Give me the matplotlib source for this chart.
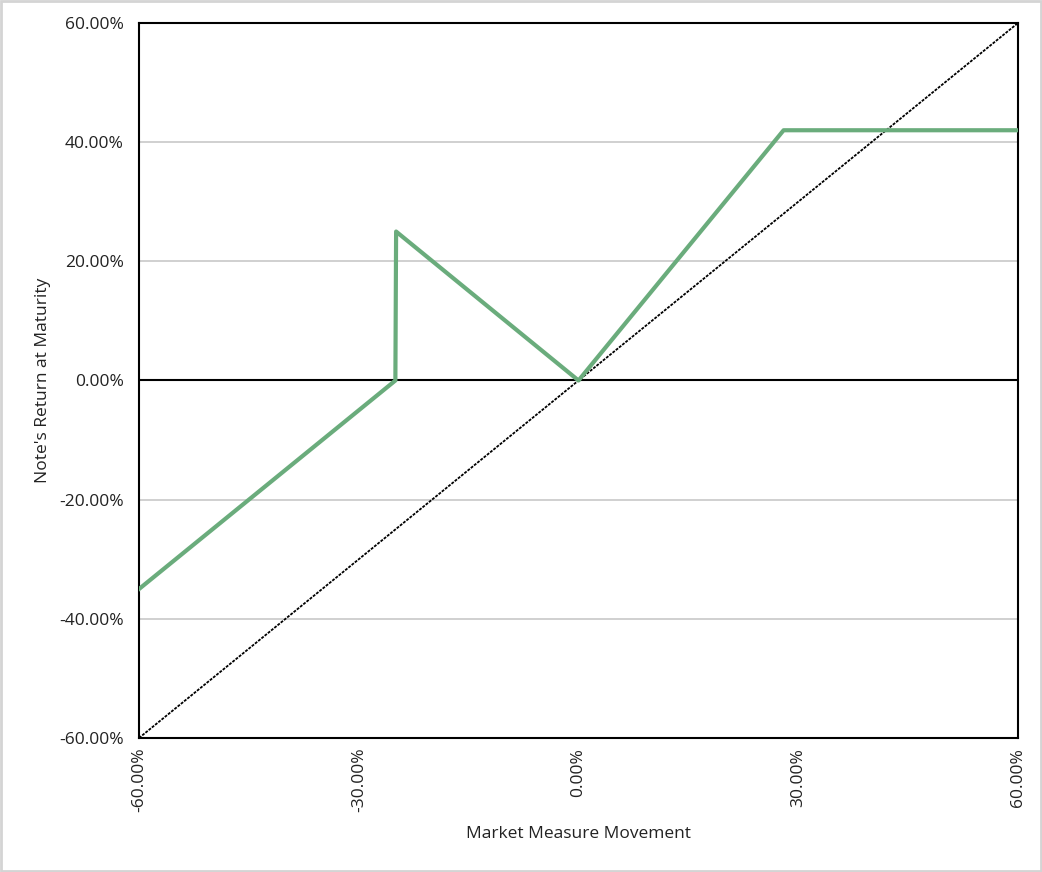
import matplotlib
matplotlib.use("Agg")
import matplotlib.pyplot as plt
from matplotlib.ticker import FuncFormatter, MultipleLocator
from matplotlib.patches import Rectangle

plt.rcParams['font.family'] = ['Open Sans', 'DejaVu Sans']

# market movement (%) and note return (%)
market = [-60, -25, -24.9, 0, 28, 60]
note_return = [-35, 0, 25, 0, 42, 42]

# reference line: return equals market movement
ref_x = [-60, 60]
ref_y = [-60, 60]

fig = plt.figure(figsize=(10.42, 8.72), dpi=100)
ax = fig.add_axes([139/1042, 1 - 738/872, (1018-139)/1042, (738-23)/872])

ax.set_xlim(-60, 60)
ax.set_ylim(-60, 60)

ax.yaxis.set_major_locator(MultipleLocator(20))
ax.xaxis.set_major_locator(MultipleLocator(30))
ax.grid(axis='y', color='#c8c8c8', linewidth=1.2, zorder=0)

ax.axhline(0, color='black', linewidth=1.5, zorder=2)
ax.plot(ref_x, ref_y, color='black', linestyle=(0, (1.6, 0.7)), linewidth=1.3, zorder=3)
ax.plot(market, note_return, color='#6aac7c', linewidth=3.0, zorder=4)

pct = FuncFormatter(lambda v, p: f"{v:.2f}%")
ax.xaxis.set_major_formatter(pct)
ax.yaxis.set_major_formatter(pct)
ax.tick_params(axis='both', length=0, labelsize=12.5, colors='#222222')
ax.tick_params(axis='y', pad=11)
ax.tick_params(axis='x', pad=7)
for lab in ax.get_xticklabels():
    lab.set_rotation(90)

for s in ax.spines.values():
    s.set_linewidth(1.5)
    s.set_color('black')

ax.set_xlabel("Market Measure Movement", fontsize=12.5, color='#222222', labelpad=10)
ax.set_ylabel("Note's Return at Maturity", fontsize=12.5, color='#222222', labelpad=6)

fig.patches.append(Rectangle((0.001, 0.001), 0.998, 0.998, transform=fig.transFigure,
                             fill=False, edgecolor='#d4d4d4', linewidth=2))

fig.savefig("out.png", dpi=100)
